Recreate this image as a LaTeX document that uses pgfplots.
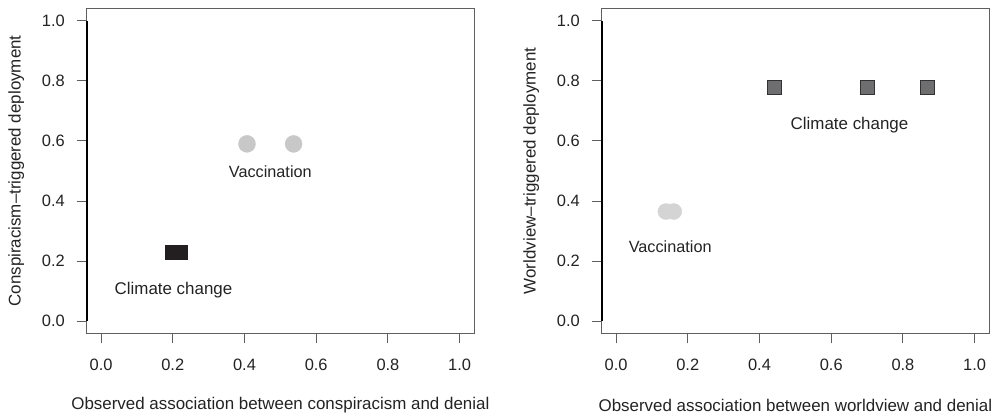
\documentclass[border=0pt]{standalone}
\usepackage{fontspec}
\setmainfont{Liberation Sans}
\usepackage{pgfplots}
\pgfplotsset{compat=1.18}
\definecolor{boxgray}{RGB}{95,95,95}
\definecolor{txt}{RGB}{35,35,35}
\definecolor{vacL}{RGB}{200,200,200}
\definecolor{vacR}{RGB}{212,212,212}
\definecolor{ccL}{RGB}{35,31,32}
\definecolor{ccR}{RGB}{110,110,113}
\definecolor{ccRb}{RGB}{50,50,50}
\pgfplotsset{
  myaxis/.style={
    scale only axis, width=387.3bp, height=324.7bp,
    xmin=-0.04, xmax=1.04, ymin=-0.04, ymax=1.04,
    xtick={0,0.2,0.4,0.6,0.8,1}, ytick={0,0.2,0.4,0.6,0.8,1},
    xticklabels={0.0,0.2,0.4,0.6,0.8,1.0},
    yticklabels={0.0,0.2,0.4,0.6,0.8,1.0},
    xtick pos=bottom, ytick pos=left,
    tick align=outside, major tick length=10bp,
    axis line style={boxgray, line width=0.8bp},
    xtick style={boxgray, line width=0.9bp},
    ytick style={draw=none},
    every tick label/.append style={text=txt, font=\fontsize{16.5}{19}\selectfont},
    xticklabel style={anchor=center, inner sep=0pt, yshift=-21.7bp},
    yticklabel style={anchor=east, inner sep=0pt, xshift=-11.7bp},
    xlabel style={at={([yshift=-71.7bp]axis description cs:0.5,0)}, anchor=center, text=txt, font=\fontsize{17}{20}\selectfont},
    ylabel style={at={([xshift=-70.5bp]axis description cs:0,0.5)}, anchor=center, text=txt, font=\fontsize{17}{20}\selectfont},
    clip=false,
  }
}
\begin{document}
\begin{tikzpicture}
\path[use as bounding box] (0bp,0bp) rectangle (999bp,418bp);
% Left panel
\begin{axis}[myaxis, at={(86.7bp,84.7bp)}, anchor=south west,
  xlabel={Observed association between conspiracism and denial},
  ylabel={Conspiracism\textendash triggered deployment}]
\pgfplotsinvokeforeach{0,0.2,0.4,0.6,0.8,1}{%
  \draw[boxgray, line width=1bp] (axis cs:-0.0679,#1) -- (axis cs:-0.04,#1);}
\draw[black, line width=1.6bp] (axis cs:-0.04,0) -- (axis cs:-0.04,1);
\addplot[only marks, mark=*, mark size=8.5bp, mark options={fill=vacL, draw=vacL}]
  coordinates {(0.407,0.590) (0.537,0.590)};
\addplot[only marks, mark=square*, mark size=7bp, mark options={fill=ccL, draw=ccL}]
  coordinates {(0.198,0.229) (0.221,0.229)};
\node[text=txt, font=\fontsize{16.3}{19}\selectfont] at (axis cs:0.472,0.498) {Vaccination};
\node[text=txt, font=\fontsize{17}{19}\selectfont] at (axis cs:0.202,0.103) {Climate change};
\end{axis}
% Right panel
\begin{axis}[myaxis, at={(601.7bp,84.7bp)}, anchor=south west,
  xlabel={Observed association between worldview and denial},
  ylabel={Worldview\textendash triggered deployment}]
\pgfplotsinvokeforeach{0,0.2,0.4,0.6,0.8,1}{%
  \draw[boxgray, line width=1bp] (axis cs:-0.0679,#1) -- (axis cs:-0.04,#1);}
\draw[black, line width=1.6bp] (axis cs:-0.04,0) -- (axis cs:-0.04,1);
\addplot[only marks, mark=*, mark size=8bp, mark options={fill=vacR, draw=vacR}]
  coordinates {(0.139,0.365) (0.161,0.365)};
\addplot[only marks, mark=square*, mark size=7bp, mark options={fill=ccR, draw=ccRb, line width=0.8bp}]
  coordinates {(0.441,0.778) (0.701,0.778) (0.867,0.778)};
\node[text=txt, font=\fontsize{17}{19}\selectfont] at (axis cs:0.651,0.654) {Climate change};
\node[text=txt, font=\fontsize{16.3}{19}\selectfont] at (axis cs:0.151,0.248) {Vaccination};
\end{axis}
\end{tikzpicture}
\end{document}
